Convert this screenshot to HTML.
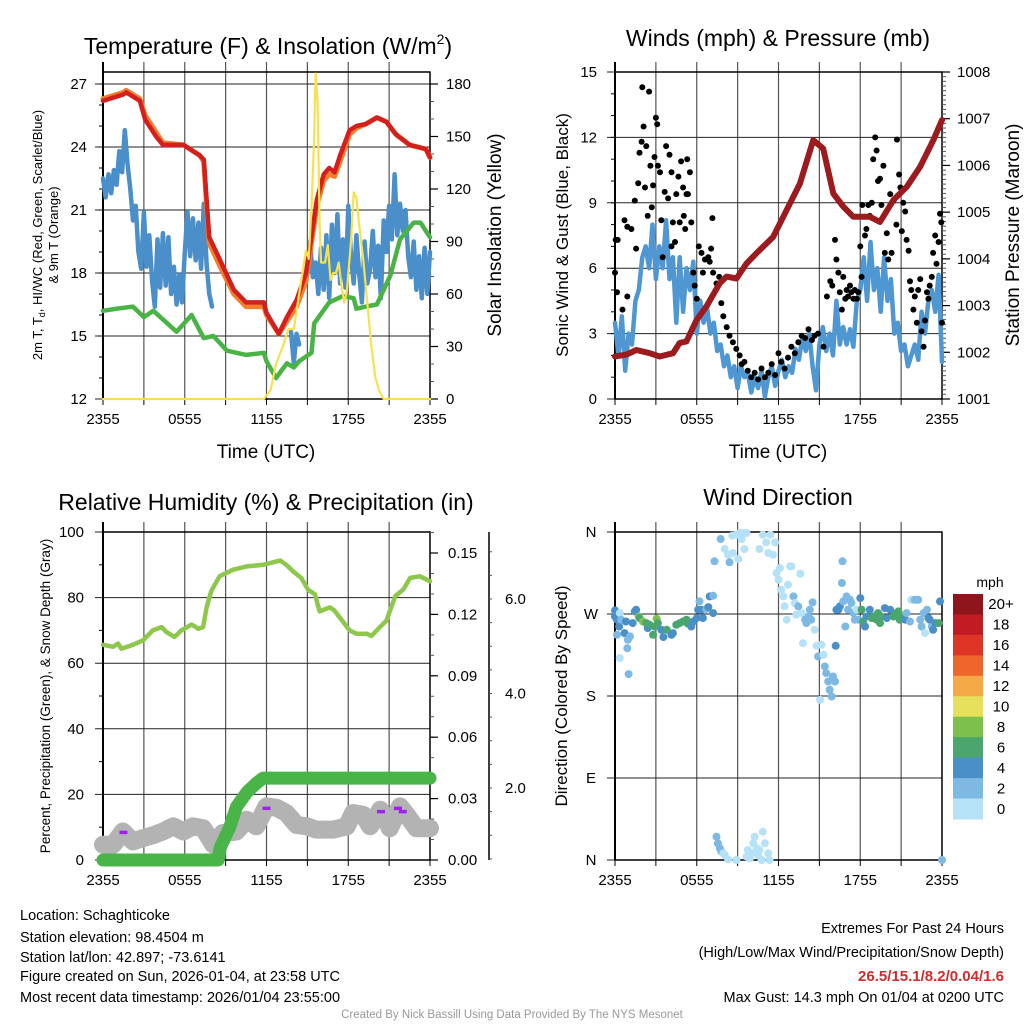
<!DOCTYPE html>
<html><head><meta charset="utf-8">
<style>
html,body{margin:0;padding:0;background:#fff;}
svg{display:block;font-family:"Liberation Sans",Arial,sans-serif;}
</style></head>
<body>
<svg id="root" width="1024" height="1024" viewBox="0 0 1024 1024" xmlns="http://www.w3.org/2000/svg">
<rect width="1024" height="1024" fill="#fff"/>
<!-- titles -->
<text x="268" y="54" font-size="23" text-anchor="middle">Temperature (F) &amp; Insolation (W/m<tspan font-size="14" dy="-10">2</tspan><tspan dy="10">)</tspan></text>
<text x="778" y="46" font-size="23" text-anchor="middle">Winds (mph) &amp; Pressure (mb)</text>
<text x="266" y="510" font-size="23" text-anchor="middle">Relative Humidity (%) &amp; Precipitation (in)</text>
<text x="778" y="505" font-size="23" text-anchor="middle">Wind Direction</text>
<!-- axis titles -->
<text x="266" y="458" font-size="19" text-anchor="middle">Time (UTC)</text>
<text x="778" y="458" font-size="19" text-anchor="middle">Time (UTC)</text>
<text transform="translate(42,235) rotate(-90)" font-size="13" text-anchor="middle">2m T, T<tspan font-size="9" dy="3">d</tspan><tspan dy="-3">, HI/WC (Red, Green, Scarlet/Blue)</tspan></text>
<text transform="translate(58,235) rotate(-90)" font-size="13" text-anchor="middle">&amp; 9m T (Orange)</text>
<text transform="translate(501,235) rotate(-90)" font-size="19" text-anchor="middle">Solar Insolation (Yellow)</text>
<text transform="translate(568,235) rotate(-90)" font-size="17" text-anchor="middle">Sonic Wind &amp; Gust (Blue, Black)</text>
<text transform="translate(1019,235) rotate(-90)" font-size="19" text-anchor="middle">Station Pressure (Maroon)</text>
<text transform="translate(50,696) rotate(-90)" font-size="13.5" text-anchor="middle">Percent, Precipitation (Green), &amp; Snow Depth (Gray)</text>
<text transform="translate(567,696) rotate(-90)" font-size="17" text-anchor="middle">Direction (Colored By Speed)</text>
<!-- footer text -->
<g font-size="14.5">
<text x="20" y="920">Location: Schaghticoke</text>
<text x="20" y="942">Station elevation: 98.4504 m</text>
<text x="20" y="962">Station lat/lon: 42.897; -73.6141</text>
<text x="20" y="981">Figure created on Sun, 2026-01-04, at 23:58 UTC</text>
<text x="20" y="1002">Most recent data timestamp: 2026/01/04 23:55:00</text>
</g>
<g font-size="14.5" text-anchor="end">
<text x="1004" y="933">Extremes For Past 24 Hours</text>
<text x="1004" y="957">(High/Low/Max Wind/Precipitation/Snow Depth)</text>
<text x="1004" y="981" fill="#d42a2a" font-weight="bold" font-size="15">26.5/15.1/8.2/0.04/1.6</text>
<text x="1004" y="1002">Max Gust: 14.3 mph On 01/04 at 0200 UTC</text>
</g>
<text x="512" y="1018" font-size="11.5" fill="#999" text-anchor="middle">Created By Nick Bassill Using Data Provided By The NYS Mesonet</text>
<text x="990" y="587" font-size="14" text-anchor="middle">mph</text>
</svg>
<script>
// ===== data =====
const timeTickLabels = ["2355","0555","1155","1755","2355"];
const tempTicks = [12,15,18,21,24,27];
const solarTicks = [0,30,60,90,120,150,180];
const windTicks = [0,3,6,9,12,15];
const presTicks = [1001,1002,1003,1004,1005,1006,1007,1008];
const rhTicks = [0,20,40,60,80,100];
const precipTicks = [0,0.03,0.06,0.09,0.12,0.15];
const precipTickLabels = ["0.00","0.03","0.06","0.09","0.12","0.15"];
const snowTicks = [2,4,6];
const snowTickLabels = ["2.0","4.0","6.0"];
const dirTicks = [0,90,180,270,360];
const dirTickLabels = ["N","E","S","W","N"];

const tempHours = [0,1.5,1.7,2.7,3.1,3.9,4.4,5.9,7.1,7.4,7.6,7.8,8.6,9.6,10.5,11.8,12.0,12.9,13.5,14.2,14.9,15.7,16.2,16.6,17.0,17.4,18.1,18.6,19.3,20.1,20.8,21.5,22.5,23.7,24];
const tempRed = [26.2,26.5,26.6,26.2,25.3,24.5,24.1,24.1,23.6,23.4,21.5,19.7,18.6,17.2,16.6,16.6,16.1,15.1,15.9,16.7,18.0,21.5,22.7,23.0,22.8,23.6,24.8,25.0,25.1,25.4,25.2,24.6,24.1,23.9,23.5];
const tempOrange = [26.3,26.6,26.7,26.3,25.5,24.7,24.2,24.1,23.6,23.3,21.2,19.4,18.3,17.0,16.4,16.4,16.0,15.1,15.7,16.4,17.6,21.2,22.4,22.7,22.6,23.3,24.6,24.9,25.1,25.4,25.2,24.6,24.1,23.9,23.5];
const dewHours = [0,1.0,2.2,3.0,3.7,5.4,6.5,7.4,8.1,9.1,10.5,11.8,12.0,12.7,13.5,14.0,14.4,15.3,15.5,16.6,17.6,18.4,18.6,19.3,20.1,21.1,21.8,22.8,23.3,24];
const dewGreen = [16.2,16.3,16.4,15.9,16.2,15.2,16.0,14.9,15.0,14.3,14.1,14.2,13.8,13.0,13.7,13.5,13.8,14.2,15.6,16.6,16.9,16.8,16.3,16.4,16.5,17.9,19.6,20.4,20.4,19.7];
const wcStart1 = 0, wcStep = 0.2;
const wcBlue1 = [22.5,21.6,22.7,21.8,22.9,22.2,23.8,22.8,24.8,23.2,22.0,20.5,21.2,19.0,18.2,20.9,18.3,19.8,17.6,16.4,19.6,17.3,19.9,17.4,19.7,17.0,18.3,16.5,17.9,16.6,19.0,20.9,18.8,20.6,18.6,20.4,18.2,21.3,18.4,17.0,16.4];
const wcStart2 = 13.8;
const wcBlue2 = [15.2,13.7,15.1,14.6];
const wcStart3 = 15.2;
const wcBlue3 = [19.5,17.8,18.5,17.0,19.2,17.2,19.8,16.8,20.3,18.0,20.8,17.5,19.6,17.3,21.2,18.8,17.5,19.8,18.0,16.6,19.5,17.5,18.2,20.0,17.8,19.3,16.8,20.5,19.0,21.2,19.6,22.7,19.8,21.3,20.0,21.0,18.8,17.8,19.5,17.2,18.8,16.8,19.2,17.0,19.0];
const solarHours = [0,11.8,12.3,12.7,13.2,13.6,14.0,14.3,14.6,14.9,15.1,15.3,15.5,15.6,15.75,15.9,16.0,16.3,16.5,16.7,16.9,17.1,17.3,17.5,17.7,17.9,18.2,18.4,18.6,18.8,19.1,19.4,19.7,20.0,20.3,20.6,24];
const solarVals = [0,0,5,20,30,40,40,55,70,85,80,110,150,186,170,100,78,78,88,68,72,72,78,65,55,62,90,118,115,100,80,55,30,12,4,0,0];

const windStep = 0.25;
const windSpeed = [3.5,2.0,3.8,1.3,3.0,2.5,4.5,5.0,6.5,7.0,6.0,8.0,5.5,7.0,6.0,8.2,5.5,6.5,3.5,6.5,4.0,6.0,5.0,6.3,3.0,4.5,3.5,4.2,3.0,3.5,2.2,2.5,1.5,2.0,1.0,1.5,0.5,1.5,1.0,1.2,0.3,1.0,0.5,1.3,0.1,1.0,1.5,0.6,1.3,1.8,1.0,1.5,1.2,2.3,1.8,2.8,2.2,3.0,1.5,0.4,2.5,3.3,2.2,3.0,2.0,4.5,2.5,3.3,2.5,3.2,2.4,4.5,5.0,6.5,4.5,7.2,5.0,6.0,4.0,6.5,4.5,5.5,3.0,3.5,2.2,2.5,1.5,2.0,2.5,1.8,4.0,3.0,4.5,5.0,4.0,5.7,1.7];
const gustHours = [0,0.05,0.2,0.15,0.55,0.7,0.9,0.9,1.2,1.45,1.55,1.7,1.8,1.95,2.0,2.1,2.2,2.3,2.4,2.5,2.6,2.7,2.8,2.9,3.0,3.1,3.15,3.3,3.4,3.5,3.65,3.75,3.9,4.0,4.15,4.15,4.25,4.4,4.5,4.65,4.75,4.85,5.0,5.05,5.15,5.25,5.3,5.35,5.5,5.6,5.75,5.85,6.0,6.15,6.35,6.45,6.6,6.85,6.95,7.05,7.15,7.2,7.45,7.65,7.8,7.95,8.2,8.4,8.65,8.9,9.15,9.3,9.5,9.75,10.0,10.25,10.5,10.75,11.0,11.25,11.5,11.75,12.0,12.2,12.45,12.7,12.95,13.2,13.45,13.7,13.95,14.2,14.45,14.65,14.9,15.3,15.55,15.8,15.95,16.15,16.25,16.4,16.5,16.65,16.75,16.9,17.0,17.1,17.25,17.35,17.5,17.6,17.75,17.85,18.0,18.1,18.15,18.35,18.45,18.6,18.7,18.85,18.95,19.1,19.2,19.3,19.45,19.55,19.7,19.8,19.95,20.05,20.2,20.3,20.45,20.65,20.7,20.85,20.95,21.05,21.15,21.3,21.4,21.55,21.65,21.75,21.9,22.0,22.15,22.25,22.4,22.5,22.65,22.75,22.9,23.0,23.1,23.25,23.35,23.5,23.6,23.75,23.85,23.95,24.0];
const gustVals = [5.8,7.3,7.3,4.9,4.1,8.2,7.9,4.7,7.8,9.1,6.9,9.9,11.3,11.8,14.3,12.5,9.7,11.6,8.4,14.1,10.7,8.8,9.8,11.1,12.9,12.6,10.7,10.4,8.2,6.5,9.5,11.6,9.2,11.2,10.4,7.0,8.1,7.2,9.4,10.2,8.1,10.9,9.7,8.4,7.8,9.4,11.0,9.4,10.4,8.1,5.8,5.2,4.6,7.0,6.7,5.8,6.4,6.5,6.3,6.9,8.3,5.8,5.3,5.6,4.4,3.8,3.3,2.9,2.6,2.3,2.0,1.6,1.7,1.3,1.0,1.2,0.9,1.4,1.0,1.2,1.6,1.1,2.1,1.7,1.4,1.9,2.4,2.1,2.6,2.9,2.8,3.2,2.7,2.9,3.0,2.4,4.7,5.4,5.2,7.3,6.4,5.8,4.9,4.1,5.6,4.6,5.0,4.7,5.2,4.9,4.6,5.0,4.6,4.9,7.0,5.6,8.9,7.5,7.8,8.9,8.4,9.0,11.0,12.0,11.4,10.0,10.1,8.9,10.7,6.7,7.6,6.4,9.4,6.7,9.1,8.0,11.9,10.3,9.7,7.7,9.0,8.6,7.3,6.8,5.4,5.0,4.1,4.7,3.5,5.0,5.5,3.1,2.4,3.6,4.9,4.6,5.2,5.6,6.7,7.5,6.2,7.2,8.5,8.1,3.5];
const presHours = [0,0.83,1.57,2.55,3.28,4.26,4.75,5.24,5.98,6.71,7.69,8.18,8.92,9.65,10.38,11.61,12.59,13.57,14.55,15.28,16.02,16.75,17.49,18.71,19.45,20.43,21.41,22.39,23.36,24];
const presVals = [1001.91,1001.95,1002.05,1001.98,1001.91,1001.98,1002.2,1002.23,1002.69,1002.98,1003.48,1003.62,1003.58,1003.9,1004.12,1004.47,1005.04,1005.61,1006.54,1006.36,1005.4,1005.12,1004.9,1004.9,1004.79,1005.26,1005.54,1005.97,1006.54,1006.97];

const rhHours = [0,0.75,1.1,1.35,2.2,2.95,3.65,4.3,4.65,5.25,5.75,6.5,7.0,7.35,7.6,7.95,8.55,9.55,10.55,11.75,13.0,13.45,13.95,14.55,15.05,15.55,15.9,16.65,17.0,18.1,18.6,19.35,19.7,20.2,20.8,21.45,22.05,22.55,23.25,24];
const rhVals = [65.6,65,66,64.4,65.6,67,70,71,69.5,68,70,71.8,70.5,71,77,82,86.5,88.5,89.5,90,91.3,90,88,86,82.4,81,75.8,77,76,70,69,69,68.3,70.5,73,80.5,82.5,86,86.5,85];
const precipHours = [0,8.45,8.6,9.3,9.8,10.55,11.25,11.75,24];
const precipVals = [0,0,0.006,0.016,0.026,0.033,0.0375,0.040,0.040];
const snowHours = [0,0.75,1.45,2.2,2.95,3.65,4.4,5.15,5.9,6.6,7.35,8.1,8.8,9.8,10.55,11.25,12.0,12.75,13.45,14.2,14.95,15.65,16.9,17.9,18.35,19.1,19.6,20.35,21.05,21.8,22.3,23.0,24];
const snowVals = [0.8,0.8,1.08,0.87,0.94,1.0,1.08,1.19,1.08,1.19,1.15,0.8,1.05,1.08,1.33,1.19,1.61,1.58,1.47,1.22,1.19,1.12,1.12,1.19,1.47,1.43,1.19,1.54,1.15,1.61,1.43,1.15,1.15];
const snowfallHours = [1.5,12.0,20.4,21.65,22.0];
const snowfallVals = [1.06,1.57,1.5,1.57,1.5];

const dirHours = [0,0,0.15,0.3,0.15,0.35,0.45,0.7,0.8,0.95,1.1,0.9,0.35,1.0,1.3,1.45,1.55,1.75,1.8,2.05,2.3,2.4,2.55,2.8,2.9,3.05,3.15,3.4,3.55,3.8,4.15,4.25,4.5,4.75,5.0,5.25,5.35,5.6,5.75,6.0,6.1,6.2,6.35,6.45,6.7,6.85,6.95,7.2,7.2,7.3,7.75,8.05,8.3,8.4,8.65,8.6,8.9,9.05,9.15,9.3,9.4,9.5,9.65,10.6,10.85,11.1,11.25,11.4,11.6,11.75,11.85,12.0,12.1,12.2,12.35,12.45,12.6,12.7,12.85,12.95,13.1,13.2,13.3,13.45,13.6,13.7,13.8,13.95,14.05,14.2,14.3,14.4,14.5,14.65,14.8,14.9,15.05,15.15,15.3,15.4,15.5,15.65,15.75,15.9,16.0,16.15,16.2,16.25,16.4,16.5,16.65,16.7,16.75,16.9,17.0,17.1,17.25,17.35,17.5,17.6,17.75,17.85,18.0,18.1,18.2,18.35,18.45,18.7,18.85,18.95,19.2,19.3,19.45,19.55,19.8,19.95,20.2,20.45,20.65,20.8,20.9,21.15,21.3,21.4,21.65,21.75,22.0,22.25,22.4,22.5,22.65,22.75,22.9,23.0,23.1,23.25,23.35,23.5,23.75,23.85,24.0,7.45,7.55,7.7,7.8,7.95,8.05,8.3,8.9,9.65,9.75,9.9,10.0,10.15,10.25,10.4,10.5,10.6,10.75,10.85,11.0,11.25,11.35];
const dirDeg = [273.9,267.3,263.7,256.3,247.2,271,263.7,249,261.8,241.7,245.4,232.5,221.6,204,260,272.8,274.7,267.3,265.5,261.8,260,254.5,258.2,247.2,256.3,264.8,260,252.7,244.6,252.7,247.2,249,258.2,260,261.8,263.7,259.3,256.3,261.8,265.5,274.7,283.8,274.7,265.5,275.4,277.6,289.3,290,271,327.8,352.3,341.3,335.1,326.7,336.9,356,357,330.3,358.9,352.3,358.9,341.3,358.9,341.3,357,348.6,336.9,357,335.1,348.6,315,307.6,320.4,296.6,289.3,278.5,263.7,302.1,322.3,322.3,289.3,282,269.2,278.3,314.2,271,238,263.7,260,267.3,274.7,263.7,282.7,252.7,235.1,223.4,175.8,236.2,225.2,212.4,205.1,195.9,186.8,179.5,201.4,195.9,235.1,274.7,274.7,278.3,304,327.8,283.8,256.3,289.3,274.7,285.6,282,271,263.7,274.7,263.7,287.5,274.7,261.8,256.3,267.3,274.7,265.5,267.3,263.7,271,260,267.3,276.5,265.5,274.7,267.3,271,272.8,263.7,267.3,263.7,271,261.8,285.6,285.6,285.6,263.7,256.3,271,249,274.7,265.5,263.7,256.3,252.7,260,260,283.8,0,25.6,18.3,12.8,9.2,7.3,5.5,0.7,0,3.7,11,1.8,7.3,18.3,25.6,12.8,5.5,11,0,31.1,18.3,7.3,0];
const dirSpeed = [4,4,4,4,2.5,0.8,2.5,4,4,2.5,2.5,2.5,0.8,2.5,4,4,4,8,6,8,6,4,6,6,6,8,6,4,4,6,4,4,6,6,6,6,6,4,4,4,4,2.5,4,4,2.5,4,4,2.5,4,2.5,2.5,0.8,0.8,2.5,0.8,0.5,0.5,0.8,0.5,0.5,0.5,0.5,0.5,0.5,0.5,0.5,0.5,0.5,0.5,0.8,0.8,0.8,0.8,0.5,0.5,0.8,0.5,0.8,0.5,0.5,2.5,0.8,0.8,2.5,0.5,0.8,0.5,2.5,2.5,2.5,2.5,2.5,2.5,0.8,0.8,2.5,0.5,0.8,0.8,2.5,2.5,2.5,2.5,2.5,2.5,2.5,4,4,4,4,2.5,2.5,2.5,2.5,2.5,2.5,2.5,2.5,2.5,2.5,0.8,2.5,4,6,6,4,4,4,6,6,6,6,6,6,4,4,4,6,6,6,6,6,4,2.5,2.5,0.8,2.5,2.5,2.5,2.5,2.5,0.8,2.5,4,4,2.5,4,4,6,4,2.5,2.5,2.5,2.5,2.5,0.8,0.8,0.5,0.5,0.5,0.5,0.5,0.5,0.5,0.5,0.5,0.5,0.5,0.5,0.5,0.5,0.5,0.5];
const speedBinLabels = ["0","2","4","6","8","10","12","14","16","18","20+"];
const speedBinColors = ["#b5e2f7","#7db9e2","#4a8fc7","#4aa66d","#7dc04b","#e6e05a","#f5a846","#ef662d","#de3527","#c11c24","#8e1519"];

// ===== drawing =====
const NS = "http://www.w3.org/2000/svg";
const svg = document.getElementById("root");
function mk(tag, parent){ const e = document.createElementNS(NS, tag); parent.appendChild(e); return e; }
function grp(name){
  const g = mk("g", svg);
  
  
  return g;
}
function ln(p, x1,y1,x2,y2,stroke,w,name){
  const e = mk("line", p);
  e.setAttribute("x1",x1); e.setAttribute("y1",y1); e.setAttribute("x2",x2); e.setAttribute("y2",y2);
  e.setAttribute("stroke",stroke); e.setAttribute("stroke-width",w);
  
  
  return e;
}
function tx(p, x,y,str,size,anchor,name){
  const e = mk("text", p);
  e.setAttribute("x",x); e.setAttribute("y",y); e.setAttribute("font-size",size);
  e.setAttribute("text-anchor",anchor); e.textContent = str;
  
  
  return e;
}
function pathFrom(p, xs, ys, stroke, w, name){
  let d = "", pen = false;
  for (let i=0;i<xs.length;i++){
    if (ys[i]===null || isNaN(ys[i])) { pen=false; continue; }
    d += (pen?"L":"M") + xs[i].toFixed(1) + " " + ys[i].toFixed(1);
    pen = true;
  }
  const e = mk("path", p);
  e.setAttribute("d", d); e.setAttribute("fill","none"); e.setAttribute("stroke",stroke);
  e.setAttribute("stroke-width",w); e.setAttribute("stroke-linejoin","round"); e.setAttribute("stroke-linecap","round");
  
  
  return e;
}
function dot(p, cx, cy, r, fill, name){
  const e = mk("circle", p);
  e.setAttribute("cx",cx.toFixed(1)); e.setAttribute("cy",cy.toFixed(1)); e.setAttribute("r",r); e.setAttribute("fill",fill);
  
  
  return e;
}
function lin(d0,d1,r0,r1){ return v => r0 + (v-d0)/(d1-d0)*(r1-r0); }

const P1 = {x0:103,x1:430,y0:72,y1:399};
const P2 = {x0:615,x1:942,y0:72,y1:399};
const P3 = {x0:103,x1:430,y0:532,y1:860};
const P4 = {x0:615,x1:942,y0:532,y1:860};

function frame(P, prefix, leftTicks, leftLabels, leftScale, labelX, anchor){
  const g = grp(prefix + "-axes");
  for (let h=3; h<24; h+=3){
    const x = lin(0,24,P.x0,P.x1)(h);
    ln(g, x, P.y0-10, x, P.y1, "#555", 1.2, prefix + "-vertical-gridline");
    ln(g, x, P.y1, x, P.y1+6, "#000", 1, prefix + "-x-tick");
  }
  ln(g, P.x0, P.y1, P.x0, P.y1+6, "#000", 1, prefix + "-x-tick");
  ln(g, P.x1, P.y1, P.x1, P.y1+6, "#000", 1, prefix + "-x-tick");
  for (let i=0;i<timeTickLabels.length;i++){
    const x = lin(0,24,P.x0,P.x1)(i*6);
    tx(g, x, P.y1+25, timeTickLabels[i], 15, "middle", prefix + "-x-tick-label");
  }
  for (let i=0;i<leftTicks.length;i++){
    const y = leftScale(leftTicks[i]);
    ln(g, P.x0-8, y, P.x1, y, "#222", 1, prefix + "-horizontal-gridline");
    tx(g, labelX, y+5, leftLabels[i], 15, anchor, prefix + "-y-tick-label");
  }
  const r = mk("rect", g);
  r.setAttribute("x",P.x0); r.setAttribute("y",P.y0); r.setAttribute("width",P.x1-P.x0); r.setAttribute("height",P.y1-P.y0);
  r.setAttribute("fill","none"); r.setAttribute("stroke","#000"); r.setAttribute("stroke-width",1.5);
  
  
  ln(g, P.x0, P.y0-10, P.x0, P.y1, "#000", 2, prefix + "-left-axis-line");
  return g;
}
function rightAxis(g, P, ticks, labels, scale, minorFrom, minorTo, minorStep, prefix, axX, lblX){
  const X = axX===undefined ? P.x1 : axX;
  for (let v=minorFrom; v<=minorTo+1e-9; v+=minorStep){
    const y = scale(v);
    if (y < P.y0-1 || y > P.y1+1) continue;
    ln(g, X, y, X+4, y, "#555", 1, prefix + "-minor-tick");
  }
  for (let i=0;i<ticks.length;i++){
    const y = scale(ticks[i]);
    ln(g, X, y, X+8, y, "#000", 1.2, prefix + "-major-tick");
    tx(g, lblX===undefined ? X+16 : lblX, y+5, labels[i], 15, "start", prefix + "-tick-label");
  }
}

// ---- Panel 1 ----
const xT1 = lin(0,24,P1.x0,P1.x1);
const yTemp = lin(12,27,399,84);
const ySolar = lin(0,180,399,84);
const g1 = frame(P1, "temp", tempTicks, tempTicks.map(String), yTemp, 87, "end");
for (let v=13; v<=27; v++){ ln(g1, P1.x0-4, yTemp(v), P1.x0, yTemp(v), "#000", 1, "temp-minor-tick"); }
rightAxis(g1, P1, solarTicks, solarTicks.map(String), ySolar, 0, 180, 10, "solar", P1.x1, 446);
const s1 = grp("temp-series");
function segX(start, n){ const a=[]; for(let i=0;i<n;i++) a.push(xT1(start+i*wcStep)); return a; }
pathFrom(s1, segX(wcStart1, wcBlue1.length), wcBlue1.map(yTemp), "#4b8fca", 4.5, "windchill-line-blue");
pathFrom(s1, segX(wcStart2, wcBlue2.length), wcBlue2.map(yTemp), "#4b8fca", 4.5, "windchill-line-blue-2");
pathFrom(s1, segX(wcStart3, wcBlue3.length), wcBlue3.map(yTemp), "#4b8fca", 4.5, "windchill-line-blue-3");
pathFrom(s1, dewHours.map(xT1), dewGreen.map(yTemp), "#49b445", 4.5, "dewpoint-line-green");
pathFrom(s1, tempHours.map(xT1), tempOrange.map(yTemp), "#f27f2c", 5, "temp-9m-line-orange");
pathFrom(s1, tempHours.map(xT1), tempRed.map(yTemp), "#d3201f", 4.5, "temp-2m-line-red");
pathFrom(s1, solarHours.map(xT1), solarVals.map(ySolar), "#f8e14e", 2.2, "solar-insolation-line-yellow");

// ---- Panel 2 ----
const xT2 = lin(0,24,P2.x0,P2.x1);
const yWind = lin(0,15,399,72);
const yPres = lin(1001,1008,399,72);
const g2 = frame(P2, "wind", windTicks, windTicks.map(String), yWind, 597, "end");
for (let v=1; v<15; v++){ ln(g2, P2.x0-4, yWind(v), P2.x0, yWind(v), "#000", 1, "wind-minor-tick"); }
rightAxis(g2, P2, presTicks, presTicks.map(String), yPres, 1001, 1008, 0.1, "pressure", P2.x1, 957);
const s2 = grp("wind-series");
pathFrom(s2, windSpeed.map((v,i)=>xT2(i*windStep)), windSpeed.map(yWind), "#4f97d2", 4.5, "sonic-wind-line-blue");
for (let i=0;i<gustHours.length;i++){
  const c = dot(s2, xT2(gustHours[i]), yWind(gustVals[i]), 3, "#000", "gust-point");
}
pathFrom(s2, presHours.map(xT2), presVals.map(yPres), "#9b1b1e", 6, "pressure-line-maroon");

// ---- Panel 3 ----
const xT3 = lin(0,24,P3.x0,P3.x1);
const yRH = lin(0,100,860,532);
const yPre = lin(0,0.15,860,553);
const ySnow = lin(2,6,788,599);
const g3 = frame(P3, "rh", rhTicks, rhTicks.map(String), yRH, 84, "end");
for (let v=10; v<100; v+=20){ ln(g3, P3.x0-4, yRH(v), P3.x0, yRH(v), "#000", 1, "rh-minor-tick"); }
rightAxis(g3, P3, precipTicks, precipTickLabels, yPre, 0, 0.16, 0.01, "precip", P3.x1, 448);
ln(g3, 489, 532, 489, 860, "#000", 1.5, "snow-axis-line");
for (let v=0.5; v<7.5; v+=0.5){ const y=ySnow(v); if(y<532||y>860) continue; ln(g3, 489, y, 492, y, "#555", 1, "snow-minor-tick"); }
for (let i=0;i<snowTicks.length;i++){ tx(g3, 505, ySnow(snowTicks[i])+5, snowTickLabels[i], 15, "start", "snow-tick-label"); }
const s3 = grp("rh-series");
pathFrom(s3, snowHours.map(xT3), snowVals.map(ySnow), "#b3b3b3", 18, "snow-depth-line-gray");
for (let i=0;i<snowfallHours.length;i++){
  const x = xT3(snowfallHours[i]), y = ySnow(snowfallVals[i]);
  ln(s3, x-4, y, x+4, y, "#a020f0", 3.5, "snowfall-marker-purple");
}
pathFrom(s3, precipHours.map(xT3), precipVals.map(yPre), "#49b548", 13, "precip-line-green");
pathFrom(s3, rhHours.map(xT3), rhVals.map(yRH), "#8dc84c", 4.5, "rh-line-green");

// ---- Panel 4 ----
const xT4 = lin(0,24,P4.x0,P4.x1);
const yDir = lin(0,360,860,532);
const g4 = frame(P4, "direction", dirTicks, dirTickLabels, yDir, 591, "middle");
const s4 = grp("direction-points");
function speedColor(v){ let b = Math.floor((v+1)/2); if (b<0) b=0; if (b>10) b=10; return speedBinColors[b]; }
for (let i=0;i<dirHours.length;i++){
  dot(s4, xT4(dirHours[i]), yDir(dirDeg[i]), 4, speedColor(dirSpeed[i]), "direction-point");
}
// colorbar
const cb = grp("speed-colorbar");
const cbTop = 594, cbBot = 819, cbH = (cbBot-cbTop)/speedBinColors.length;
for (let i=0;i<speedBinColors.length;i++){
  const k = speedBinColors.length-1-i;
  const r = mk("rect", cb);
  r.setAttribute("x",953); r.setAttribute("y",(cbTop+i*cbH).toFixed(1)); r.setAttribute("width",30); r.setAttribute("height",(cbH+0.5).toFixed(1));
  r.setAttribute("fill",speedBinColors[k]);
  
  
  tx(cb, 1001, cbTop+i*cbH+cbH/2+5, speedBinLabels[k], 15, "middle", "colorbar-label");
}
</script>
</body></html>
